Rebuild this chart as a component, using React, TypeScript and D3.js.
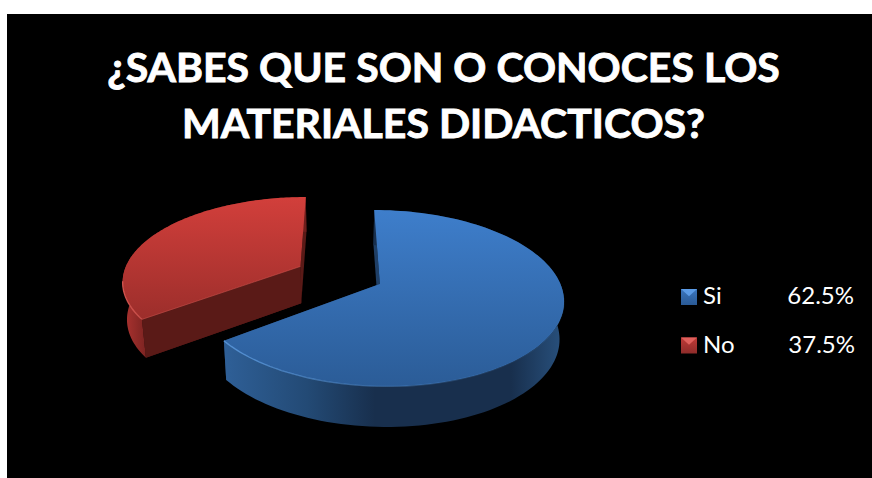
import React from "react";
import * as d3 from "d3";

const categories = ["Si", "No"];
const pieValues = [64.8, 35.2];
const legendValues = ["62.5%", "37.5%"];
const titleLines = ["¿SABES QUE SON O CONOCES LOS", "MATERIALES DIDACTICOS?"];
const palette = [
  { topA: "#3e7ecb", topB: "#2b5c97", cut: "#1f3f66", rim: "#5a98dc", l1: "#5b9be6", l2: "#2a5a96", l3: "#3a75bd" },
  { topA: "#d23f3b", topB: "#9c2e2b", cut: "#5a1a17", rim: "#dc5a54", l1: "#e0605c", l2: "#8e2c2a", l3: "#c03a37" },
];
const wallStops = [
  [[0, "#2f6098"], [0.25, "#234a75"], [0.45, "#182f4d"], [0.85, "#182f4d"], [1, "#28507c"]],
  [[0, "#b03431"], [0.14, "#7a2321"], [1, "#6e1e1c"]],
] as [number, string][][];

const W = 872, H = 478;
const CX = 339.5, CY = 275, B = 177.5, A = 83, K = 0.16, EXPLODE_X = 0.25, EXPLODE_Y = 0.235, SHRINK = 0.98;

const project = (u: number, v: number) => {
  const den = 1 - K * v;
  return [CX + (B * u) / den, CY + (A * v) / den] as [number, number];
};
const lower = (p: [number, number]) =>
  [CX + (p[0] - CX) * SHRINK, p[1] + 38.5 + (p[1] - 320) * 0.03] as [number, number];
const line = d3.line<[number, number]>().x((d) => d[0]).y((d) => d[1]);

const slices = d3.pie<number>().sort(null)(pieValues);

export default function App() {
  return (
    <svg width={W} height={H} style={{ position: "absolute", left: 0, top: 0, background: "#fff" }}>
      <defs>
        {palette.map((c, i) => (
          <React.Fragment key={i}>
            <linearGradient id={`top${i}`} x1="0" y1="0" x2="0" y2="1">
              <stop offset="0" stopColor={c.topA} />
              <stop offset="1" stopColor={c.topB} />
            </linearGradient>
            <linearGradient id={`wall${i}`} gradientUnits="userSpaceOnUse" x1={i ? 122 : 222} y1="0" x2={i ? 300 : 562} y2="0">
              {wallStops[i].map(([o, col]) => (
                <stop key={o} offset={o} stopColor={col} />
              ))}
            </linearGradient>
            <linearGradient id={`rim${i}`} gradientUnits="userSpaceOnUse" x1={i ? 120 : 222} y1="0" x2={i ? 300 : 520} y2="0">
              <stop offset="0" stopColor={c.rim} stopOpacity={0.9} />
              <stop offset="0.55" stopColor={c.rim} stopOpacity={0.35} />
              <stop offset="1" stopColor={c.rim} stopOpacity={0.1} />
            </linearGradient>
            <linearGradient id={`leg${i}`} x1="0" y1="0" x2="0" y2="1">
              <stop offset="0" stopColor={c.l3} />
              <stop offset="1" stopColor={c.l2} />
            </linearGradient>
          </React.Fragment>
        ))}
      </defs>
      <rect x={7} y={14} width={W - 7} height={H - 14} fill="#000" />
      {titleLines.map((t, i) => (
        <text key={t} x={443.5} y={82 + i * 56} textAnchor="middle" fill="#fff" stroke="#fff" strokeWidth={0.9}
          fontFamily="Lato" fontWeight={700} fontSize={41}>
          {t}
        </text>
      ))}
      {slices.map((s, i) => {
        const mid = (s.startAngle + s.endAngle) / 2;
        const ou = Math.sin(mid) * EXPLODE_X, ov = -Math.cos(mid) * EXPLODE_Y;
        const pts = d3.range(0, 121).map((k) => {
          const a = s.startAngle + ((s.endAngle - s.startAngle) * k) / 120;
          return project(ou + Math.sin(a), ov - Math.cos(a));
        });
        const apex = project(ou, ov);
        const c = palette[i];
        const face = line([apex, ...pts])! + "Z";
        const wall = line([...pts, ...pts.map(lower).reverse()])! + "Z";
        const cutA = line([apex, pts[0], lower(pts[0]), lower(apex)])! + "Z";
        const cutB = line([apex, pts[120], lower(pts[120]), lower(apex)])! + "Z";
        const front = pts.filter((p) => p[1] > apex[1] + 14);
        return (
          <g key={categories[i]}>
            <path d={cutA} fill={c.cut} />
            <path d={cutB} fill={c.cut} />
            <path d={wall} fill={`url(#wall${i})`} />
            {i === 1 && <path d={cutA} fill={c.cut} />}
            <path d={face} fill={`url(#top${i})`} />
            <path d={line(front)!} fill="none" stroke={`url(#rim${i})`} strokeWidth={1.3} />
            {i === 1 && <path d={line([pts[0], apex])!} fill="none" stroke={c.rim} strokeOpacity={0.5} strokeWidth={1} />}
          </g>
        );
      })}
      {categories.map((name, i) => {
        const y = 296 + i * 48.5;
        const c = palette[i];
        const sx = 681, sy = y - 7, sz = 16;
        return (
          <g key={name} fontFamily="Lato" fontSize={24} fill="#fff">
            <rect x={sx} y={sy} width={sz} height={sz} fill={`url(#leg${i})`} />
            <path d={line([[sx, sy], [sx + sz, sy], [sx + sz / 2, sy + sz * 0.45]])! + "Z"} fill={c.l1} />
            <text x={703} y={y + 8}>{name}</text>
            <text x={854 + i} y={y + 8} textAnchor="end">{legendValues[i]}</text>
          </g>
        );
      })}
    </svg>
  );
}
